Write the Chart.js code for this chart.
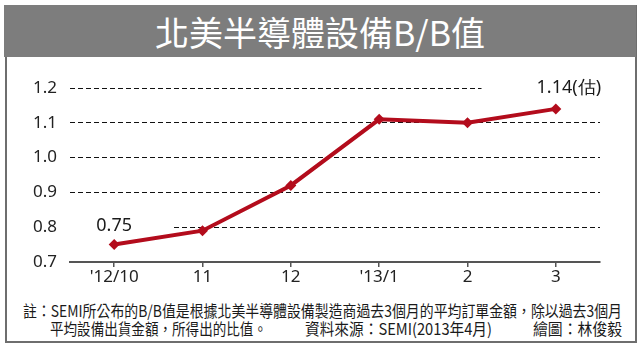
<!DOCTYPE html>
<html>
<head>
<meta charset="utf-8">
<script src="https://cdn.jsdelivr.net/npm/chart.js@4.4.1/dist/chart.umd.min.js"></script>
<style>
  html, body { margin: 0; padding: 0; background: #fff; }
  #wrap { position: relative; width: 640px; height: 351px; overflow: hidden; font-family: "Noto Sans CJK TC", "Noto Sans", sans-serif; }
  #frame { position: absolute; left: 5px; top: 5px; width: 628px; height: 336px; border: 2px solid #6e6e6e; border-top: none; }
  #titlebar { position: absolute; left: 4px; top: 5px; width: 632px; height: 52px; background: #7d7d7d; }
  .fit { position: absolute; white-space: nowrap; transform-origin: 0 50%; line-height: 1; }
  #title { color: #fff; font-size: 34px; top: 15px; }
  .note { color: #1a1a1a; font-size: 16px; }
  #chartbox { position: absolute; left: 0; top: 57px; width: 640px; height: 233px; }
</style>
</head>
<body>
<div id="wrap">
  <div id="frame"></div>
  <div id="titlebar"></div>
  <div id="title" class="fit" data-x="155" data-w="330">北美半導體設備B/B值</div>
  <div id="chartbox"><canvas id="c" width="640" height="233"></canvas></div>
  <div class="fit note" style="top:302px" data-x="23" data-w="599">註：SEMI所公布的B/B值是根據北美半導體設備製造商過去3個月的平均訂單金額，除以過去3個月</div>
  <div class="fit note" style="top:320px" data-x="50" data-w="217">平均設備出貨金額，所得出的比值。</div>
  <div class="fit note" style="top:320px" data-x="305" data-w="187">資料來源：SEMI(2013年4月)</div>
  <div class="fit note" style="top:320px" data-x="533" data-w="89">繪圖：林俊毅</div>
</div>
<script>
const months = ["'12/10", "11", "12", "'13/1", "2", "3"];
const bbValues = [0.75, 0.79, 0.92, 1.11, 1.10, 1.14];
const pointNotes = ["0.75", "", "", "", "", "1.14(估)"];
const yTicks = [0.7, 0.8, 0.9, 1.0, 1.1, 1.2];

// squeeze each text line to the width it has in the print
document.querySelectorAll('.fit').forEach(el => {
  const w = el.getBoundingClientRect().width;
  el.style.left = el.dataset.x + 'px';
  el.style.transform = 'scaleX(' + (parseFloat(el.dataset.w) / w) + ')';
});

const lineRed = '#b30c1c';

// white gaps in the grid behind the two value notes, then the notes
const notesPlugin = {
  id: 'notes',
  beforeDatasetsDraw(chart) {
    const { ctx, chartArea, scales } = chart;
    const x = scales.x, y = scales.y;
    ctx.save();
    ctx.fillStyle = '#fff';
    const y08 = y.getPixelForValue(0.8);
    ctx.fillRect(chartArea.left, y08 - 3, x.getPixelForValue(0) + 58 - chartArea.left, 6);
    const y12 = y.getPixelForValue(1.2);
    ctx.fillRect(x.getPixelForValue(4) + 14, y12 - 3, chartArea.right - x.getPixelForValue(4) - 10, 6);
    ctx.fillStyle = '#1a1a1a';
    ctx.font = '18px "Noto Sans", sans-serif';
    ctx.textAlign = 'center';
    ctx.textBaseline = 'middle';
    pointNotes.forEach((t, i) => {
      if (!t) return;
      const px = x.getPixelForValue(i), py = y.getPixelForValue(bbValues[i]);
      if (i === 0) ctx.fillText(t, px, py - 19);
      else ctx.fillText(t, px + 13, py - 21);
    });
    ctx.restore();
  }
};

new Chart(document.getElementById('c').getContext('2d'), {
  type: 'line',
  data: {
    labels: months,
    datasets: [{
      data: bbValues,
      borderColor: lineRed,
      backgroundColor: lineRed,
      borderWidth: 4,
      pointStyle: 'rectRot',
      pointRadius: 5.5,
      pointBorderWidth: 0,
      tension: 0
    }]
  },
  options: {
    responsive: false,
    animation: false,
    layout: { padding: { left: 0, right: 40, top: 31, bottom: 0 } },
    plugins: { legend: { display: false }, tooltip: { enabled: false } },
    scales: {
      x: {
        offset: true,
        afterFit(s) { s.height = 28; },
        grid: { drawOnChartArea: false, drawTicks: true, tickLength: 5, color: '#555', lineWidth: 1.5 },
        border: { display: true, color: '#555', width: 2 },
        ticks: { color: '#222', font: { size: 17, family: '"Noto Sans", sans-serif' }, padding: 0, maxRotation: 0 }
      },
      y: {
        min: 0.7,
        max: 1.2,
        afterFit(s) { s.width = 70; },
        afterBuildTicks(s) { s.ticks = yTicks.map(v => ({ value: v })); },
        grid: { color: '#111', lineWidth: 1, drawTicks: false },
        border: { display: false, dash: [5, 3] },
        ticks: {
          color: '#222',
          font: { size: 17, family: '"Noto Sans", sans-serif' },
          padding: 13,
          callback: v => v.toFixed(1)
        }
      }
    }
  },
  plugins: [notesPlugin]
});
</script>
</body>
</html>
